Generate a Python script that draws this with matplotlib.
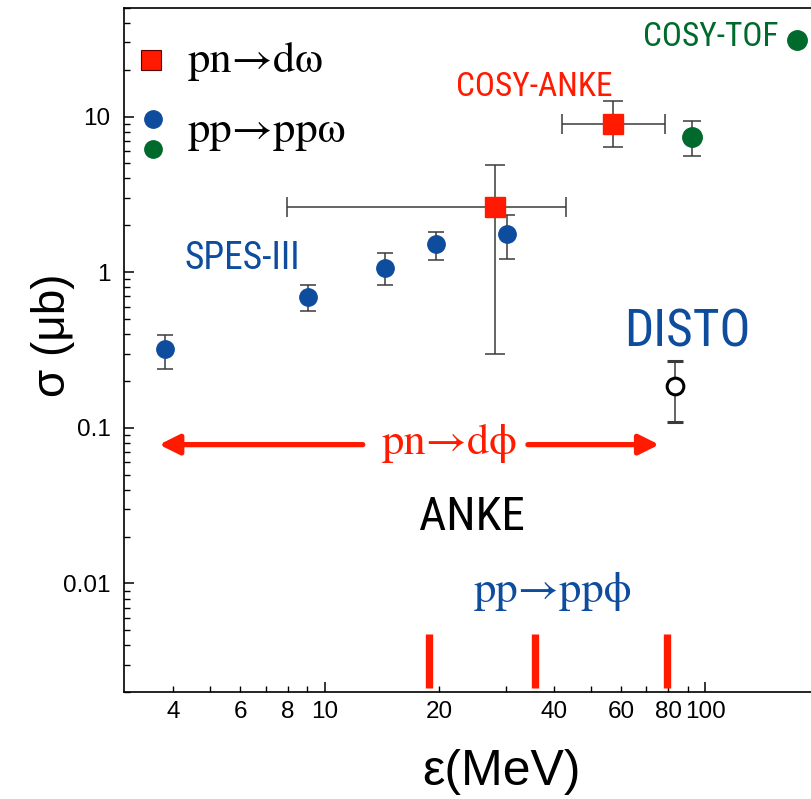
import numpy as np
import matplotlib
matplotlib.use("Agg")
import matplotlib.pyplot as plt
from matplotlib.ticker import FixedLocator, FixedFormatter, NullFormatter

# Datos: SPES-III pp->pp omega
spes_x = [3.8, 9.07, 14.4, 19.6, 30.1]
spes_y = [0.319, 0.696, 1.069, 1.518, 1.77]
spes_lo = [0.239, 0.563, 0.823, 1.198, 1.216]
spes_hi = [0.396, 0.831, 1.32, 1.806, 2.33]

# COSY-ANKE pn->d omega
anke_x = [28.0, 57.3]
anke_y = [2.61, 8.98]
anke_xlo = [7.99, 42.0]
anke_xhi = [43.1, 78.3]
anke_lo = [0.299, 6.38]
anke_hi = [4.89, 12.6]

# COSY-TOF pp->pp omega
tof_x = [92.5, 174.0]
tof_y = [7.43, 30.8]
tof_lo = [5.61, 30.8]
tof_hi = [9.29, 30.8]

# DISTO pp->pp phi
disto_x = [83.0]
disto_y = [0.185]
disto_lo = [0.109]
disto_hi = [0.268]

# energias ANKE pp->pp phi
anke_phi_e = [18.8, 35.6, 79.3]
bar_lo, bar_hi = 0.00213, 0.00476

xticks_major = [10, 100]
xticks_minor = [4, 5, 6, 7, 8, 9, 20, 30, 40, 50, 60, 70, 80, 90]
xminor_labels = ["4", "", "6", "", "8", "", "20", "", "40", "", "60", "", "80", ""]
yticks_major = [0.01, 0.1, 1, 10]
ylabels = ["0.01", "0.1", "1", "10"]

red = "#ff1a00"
blue = "#0e4c9e"
green = "#006a2d"
ebar = "#3a3a3a"
narrow = ["Liberation Sans Narrow", "Roboto Condensed", "DejaVu Sans"]
serif = ["STIXGeneral", "DejaVu Serif"]
sans = ["Liberation Sans", "DejaVu Sans"]

fig = plt.figure(figsize=(8.11, 7.99), dpi=100)
ax = fig.add_axes([124.3 / 811, 106.7 / 799, (820 - 124.3) / 811, (692.3 - 7.7) / 799])
ax.set_xscale("log")
ax.set_yscale("log")
ax.set_xlim(2.98, 200)
ax.set_ylim(0.002, 50)
ax.spines["right"].set_visible(False)
for s in ["left", "bottom", "top"]:
    ax.spines[s].set_linewidth(1.2)

def asym(v, lo, hi):
    v = np.array(v)
    return [v - np.array(lo), np.array(hi) - v]

# barras de error y puntos
ax.errorbar(spes_x, spes_y, yerr=asym(spes_y, spes_lo, spes_hi), fmt="o", ms=12.5,
            color=blue, ecolor=ebar, elinewidth=1.1, capsize=6, capthick=1.1, zorder=3)
ax.errorbar(anke_x, anke_y, yerr=asym(anke_y, anke_lo, anke_hi),
            xerr=asym(anke_x, anke_xlo, anke_xhi), fmt="s", ms=15, color=red,
            ecolor=ebar, elinewidth=1.1, capsize=7.5, capthick=1.1, zorder=4)
ax.errorbar(tof_x[:1], tof_y[:1], yerr=asym(tof_y[:1], tof_lo[:1], tof_hi[:1]), fmt="o",
            ms=14, color=green, ecolor=ebar, elinewidth=1.1, capsize=6.5, capthick=1.1, zorder=3)
ax.plot(tof_x[1:], tof_y[1:], "o", ms=14, color=green, clip_on=False, zorder=3)
ax.errorbar(disto_x, disto_y, yerr=asym(disto_y, disto_lo, disto_hi), fmt="o", ms=12,
            mfc="white", mec="black", mew=2.2, ecolor=ebar, elinewidth=1.1, capsize=6,
            capthick=1.1, zorder=3)

# barras rojas verticales (ANKE pp->pp phi)
ax.vlines(anke_phi_e, bar_lo, bar_hi, color=red, lw=5.3)

# flechas pn->d phi
ax.annotate("", xy=(3.68, 0.078), xytext=(12.6, 0.078),
            arrowprops=dict(arrowstyle="-|>,head_length=0.6,head_width=0.3", color=red,
                            lw=3.8, shrinkA=0, shrinkB=0, mutation_scale=20))
ax.annotate("", xy=(75.6, 0.078), xytext=(34.2, 0.078),
            arrowprops=dict(arrowstyle="-|>,head_length=0.6,head_width=0.3", color=red,
                            lw=3.8, shrinkA=0, shrinkB=0, mutation_scale=20))
ax.text(14.1, 0.0675, "pn→dϕ", color=red, fontsize=32, family=serif, va="baseline")
ax.text(24.6, 0.00762, "pp→ppϕ", color=blue, fontsize=32, family=serif, va="baseline")

# leyenda manual
ax.plot([3.50], [22.9], "s", ms=15, color=red, mec="#5a0000", mew=0.8)
ax.plot([3.55], [9.7], "o", ms=12.5, color=blue)
ax.plot([3.55], [6.2], "o", ms=12.5, color=green)
ax.text(4.38, 19.2, "pn→dω", fontsize=32, family=serif, va="baseline")
ax.text(4.38, 6.9, "pp→ppω", fontsize=32, family=serif, va="baseline")

# etiquetas de experimentos
ax.text(68.4, 28.2, "COSY-TOF", color=green, fontsize=24, family=narrow,
        fontstretch="condensed", va="baseline")
ax.text(22.1, 13.6, "COSY-ANKE", color=red, fontsize=24, family=narrow,
        fontstretch="condensed", va="baseline")
ax.text(4.29, 1.044, "SPES-III", color=blue, fontsize=27, family=narrow,
        fontstretch="condensed", va="baseline")
ax.text(61.2, 0.332, "DISTO", color=blue, fontsize=37, family=narrow,
        fontstretch="condensed", va="baseline")
ax.text(17.7, 0.022, "ANKE", color="black", fontsize=34, family=narrow,
        fontstretch="condensed", va="baseline")

# ejes
ax.xaxis.set_major_locator(FixedLocator(xticks_major))
ax.xaxis.set_major_formatter(FixedFormatter(["10", "100"]))
ax.xaxis.set_minor_locator(FixedLocator(xticks_minor))
ax.xaxis.set_minor_formatter(FixedFormatter(xminor_labels))
ax.yaxis.set_major_locator(FixedLocator(yticks_major))
ax.yaxis.set_major_formatter(FixedFormatter(ylabels))
ymin = [m * 10.0**e for e in range(-3, 2) for m in range(2, 10)]
ax.yaxis.set_minor_locator(FixedLocator(ymin))
ax.yaxis.set_minor_formatter(NullFormatter())
ax.tick_params(which="major", direction="in", length=7, width=1.1, labelsize=17.5)
ax.tick_params(which="minor", direction="in", length=4, width=1.0, labelsize=17.5)
ax.tick_params(axis="x", which="both", pad=6)
ax.tick_params(axis="y", which="both", pad=10)
for lab in ax.get_xticklabels(which="both") + ax.get_yticklabels():
    lab.set_family(sans)

fig.text(501 / 811, 1 - 772 / 799, "ε(MeV)", fontsize=36, family=sans,
         ha="center", va="center")
fig.text(53 / 811, 1 - 335 / 799, "σ (μb)", fontsize=33, family=sans,
         ha="center", va="center", rotation=90)

fig.savefig("out.png", dpi=100)
